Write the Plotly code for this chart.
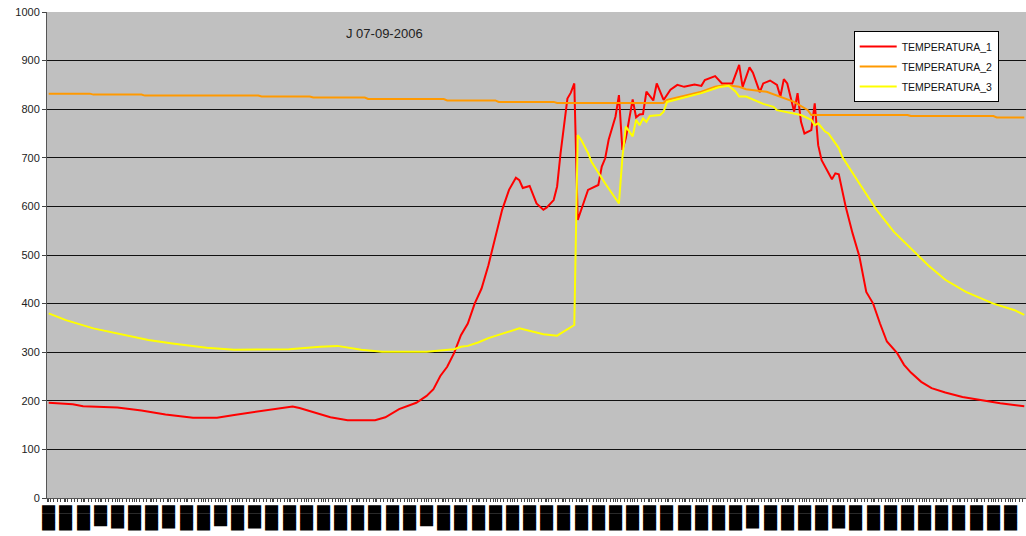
import plotly.graph_objects as go

# ---- data (sample index along the day, value) ----
red_idx = [0, 7, 10, 14, 20, 27, 34, 42, 49, 54, 62, 67, 71, 73, 77, 82, 87, 95, 98, 102,
           107, 110, 112, 114, 116, 118, 120, 122, 124, 126, 128, 130, 132, 134, 136, 137, 138, 140, 142, 144,
           145, 147, 148, 149, 151, 152, 153, 154, 155, 157, 160, 161, 162, 163, 165, 166, 167, 168, 170, 171,
           172, 173, 174, 176, 177, 179, 181, 183, 185, 188, 190, 191, 194, 196, 199, 201, 202, 204, 205, 207,
           208, 210, 212, 213, 214, 215, 217, 218, 219, 220, 222, 223, 224, 225, 228, 229, 230, 232, 234, 236,
           238, 240, 242, 244, 247, 249, 251, 254, 257, 261, 266, 271, 277, 284]
red_val = [196, 193, 189, 188, 186, 180, 172, 165, 165, 171, 179, 185, 188, 185, 176, 166, 160, 160, 166, 183,
           196, 210, 224, 251, 270, 298, 335, 359, 400, 431, 479, 538, 593, 634, 659, 654, 638, 642, 606, 593,
           598, 613, 641, 709, 822, 834, 853, 572, 593, 634, 644, 682, 699, 737, 785, 829, 716, 740, 820, 783,
           789, 790, 836, 818, 853, 819, 840, 850, 846, 851, 848, 860, 868, 853, 853, 891, 846, 886, 875, 835,
           853, 859, 850, 826, 862, 853, 795, 833, 774, 750, 757, 812, 726, 695, 656, 668, 666, 600, 545, 497,
           424, 400, 359, 322, 298, 274, 258, 239, 226, 217, 208, 202, 195, 189]

orange_idx = [0, 12, 13, 27, 28, 61, 62, 76, 77, 92, 93, 115, 116, 130, 131, 147, 148, 179, 180, 190,
              194, 197, 201, 203, 209, 213, 217, 221, 222, 250, 251, 275, 276, 284]
orange_val = [832, 832, 830, 830, 828, 828, 826, 826, 824, 824, 821, 821, 818, 818, 815, 815, 813, 813, 819, 836,
              846, 850, 846, 841, 836, 826, 815, 798, 788, 788, 786, 786, 783, 783]

yellow_idx = [0, 5, 13, 22, 29, 36, 46, 54, 67, 70, 79, 84, 91, 97, 110, 118, 120, 122, 125, 128,
              137, 144, 148, 151, 153, 154, 155, 157, 158, 162, 166, 167, 168, 170, 171, 172, 173, 174, 175, 178,
              179, 180, 186, 190, 195, 197, 198, 200, 201, 203, 205, 208, 211, 212, 219, 222, 223, 224, 226, 227,
              230, 231, 236, 241, 246, 253, 256, 261, 267, 275, 281, 284]
yellow_val = [380, 366, 349, 335, 325, 318, 309, 305, 305, 306, 311, 313, 305, 301, 301, 306, 311, 313, 320, 329,
              349, 337, 334, 347, 356, 747, 737, 710, 692, 647, 606, 700, 764, 744, 778, 767, 781, 774, 786, 788,
              795, 815, 826, 833, 845, 848, 848, 836, 826, 826, 820, 811, 805, 798, 788, 778, 767, 771, 754, 750,
              720, 702, 647, 593, 548, 500, 479, 449, 424, 400, 387, 377]

series_names = ["TEMPERATURA_1", "TEMPERATURA_2", "TEMPERATURA_3"]
series_colors = ["#FF0000", "#FF9900", "#FFFF00"]

tick_pos = list(range(0, 285, 5))
short_labels = {3, 10, 22}
medium_labels = {4, 7, 12, 41, 46}
tick_labels = [("██▌" if k in short_labels else "██▊" if k in medium_labels else "███")
               for k in range(len(tick_pos))]

chart_title = "J 07-09-2006"

fig = go.Figure()
for i, (xs, ys, name, col) in enumerate([(red_idx, red_val, series_names[0], series_colors[0]),
                                         (orange_idx, orange_val, series_names[1], series_colors[1]),
                                         (yellow_idx, yellow_val, series_names[2], series_colors[2])]):
    fig.add_trace(go.Scatter(x=xs, y=ys, name=name, mode="lines", legendgroup="g%d" % i,
                             line=dict(color=col, width=2)))

fig.add_annotation(text=chart_title, xref="paper", yref="paper", x=0.345, y=0.956,
                   xanchor="center", yanchor="middle", showarrow=False,
                   font=dict(family="Liberation Sans, Arial", size=13, color="#222222"))

fig.update_layout(
    width=1026, height=536,
    margin=dict(l=47, r=0, t=12, b=38),
    paper_bgcolor="white", plot_bgcolor="#C0C0C0",
    font=dict(family="Liberation Sans, Arial", size=11, color="#222222"),
    showlegend=True,
    legend=dict(x=0.824, y=0.961, xanchor="left", yanchor="top",
                bgcolor="white", bordercolor="black", borderwidth=1,
                font=dict(family="Liberation Sans, Arial", size=10.5, color="#111111"),
                traceorder="grouped", tracegroupgap=1, itemwidth=37),
    xaxis=dict(range=[-0.5, 284.5], tickmode="array", tickvals=tick_pos, ticktext=tick_labels,
               tickangle=90, ticks="outside", ticklen=3, tickcolor="#444444", automargin=False,
               ticklabelstandoff=1,
               tickfont=dict(family="DejaVu Sans", size=11, color="black"),
               minor=dict(ticks="outside", tickmode="linear", tick0=0.5, dtick=1, ticklen=3, tickcolor="#444444"),
               showgrid=False, zeroline=False, showline=True, linecolor="#555555", linewidth=1),
    yaxis=dict(range=[0, 1000], dtick=100, tick0=0, ticks="outside", ticklen=4, tickcolor="#444444",
               automargin=False, ticklabeloverflow="allow",
               showgrid=True, gridcolor="#111111", gridwidth=1, zeroline=False,
               showline=True, linecolor="#555555", linewidth=1,
               tickfont=dict(family="Liberation Sans, Arial", size=11, color="#222222")),
)

# remove the default page margin so the figure fills the window exactly
fig.write_html("out.html", config={"displayModeBar": False},
               post_script="document.body.style.margin='0';document.body.style.overflow='hidden';")
